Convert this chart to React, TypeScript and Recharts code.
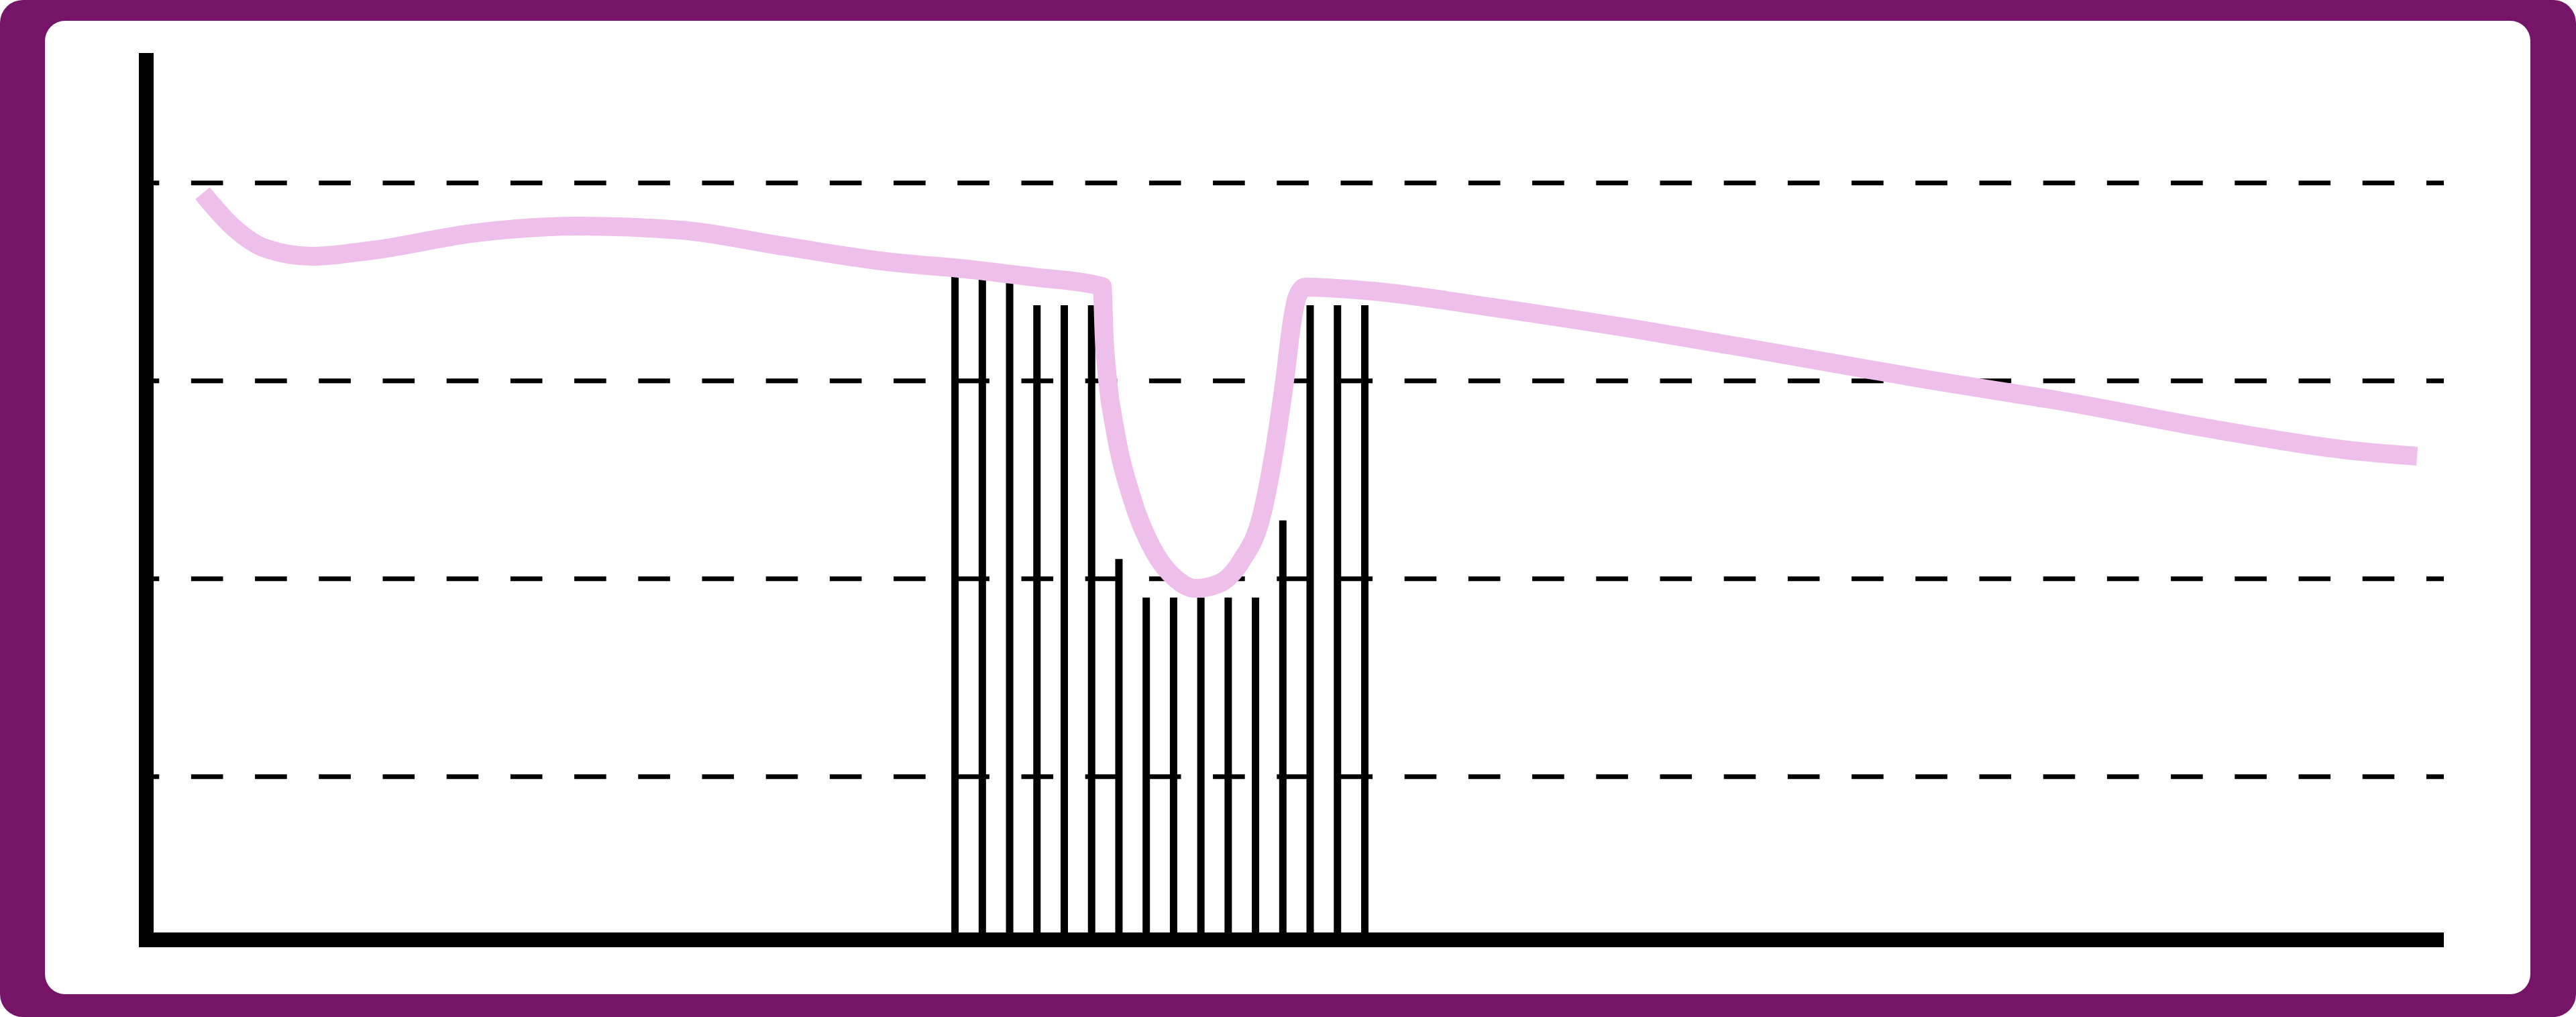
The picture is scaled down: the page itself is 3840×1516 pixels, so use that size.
import React from 'react';
import { ComposedChart, Bar, Line, XAxis, YAxis, ReferenceLine } from 'recharts';

// Bar series (x position on numeric axis, value)
const barX = [29, 30, 31, 32, 33, 34, 35, 36, 37, 38, 39, 40, 41, 42, 43, 44];
const barValues = [67.0, 67.0, 67.0, 64.15, 64.15, 64.15, 38.5, 34.6, 34.6, 34.6, 34.6, 34.6, 42.4, 64.15, 64.15, 64.15];

// Line series
const lineX = [1.46, 2.62, 3.75, 5.44, 7.7, 11.46, 15.21, 18.97, 22.73, 26.48, 29.65, 31.86, 34.39, 34.46, 34.59, 34.86, 35.54, 36.26, 37.09, 37.8, 38.66, 39.5, 40.21, 40.63, 41.07, 41.34, 41.51, 41.81, 44.29, 48.49, 53.81, 59.14, 64.47, 69.8, 75.1, 80.43, 82.52];
const lineY = [75.47, 71.95, 69.91, 69.1, 69.71, 71.47, 72.15, 71.74, 70.12, 68.56, 67.74, 67.0, 66.05, 61.1, 56.55, 51.6, 44.14, 39.4, 36.48, 35.53, 36.01, 38.38, 42.72, 48.42, 56.55, 62.45, 64.83, 65.98, 65.57, 64.01, 61.78, 59.27, 56.69, 54.32, 51.6, 49.37, 48.89];

// Axis settings
const xDomain = [-0.6, 83.5];
const yDomain = [0, 88.9];
const yTicks = [16.5, 36.5, 56.5, 76.5];

const barData = barX.map((x, i) => ({ x, v: barValues[i] }));
const lineData = lineX.map((x, i) => ({ x, y: lineY[i] }));

export default function App() {
  return (
    <div style={{ position: 'absolute', left: 0, top: 0, width: 3840, height: 1516, background: '#fff' }}>
      <div style={{ position: 'absolute', left: 0, top: 0, width: 3840, height: 1516, background: '#761467', borderRadius: 34 }} />
      <div style={{ position: 'absolute', left: 67, top: 31, width: 3705, height: 1451, background: '#fff', borderRadius: 30 }} />
      <div style={{ position: 'absolute', left: 0, top: 0 }}>
        <ComposedChart
          width={3840}
          height={1516}
          data={barData}
          margin={{ top: 90, right: 197, bottom: 114, left: 217 }}
        >
          <XAxis
            xAxisId="bar"
            dataKey="x"
            type="number"
            domain={xDomain as any}
            allowDataOverflow
            height={1}
            tick={false}
            tickLine={false}
            axisLine={{ stroke: '#000', strokeWidth: 22 }}
          />
          <XAxis
            xAxisId="line"
            dataKey="x"
            type="number"
            domain={xDomain as any}
            allowDataOverflow
            hide
          />
          <YAxis
            yAxisId="y"
            type="number"
            domain={yDomain as any}
            ticks={yTicks}
            allowDataOverflow
            width={1}
            tick={false}
            tickLine={false}
            axisLine={{ stroke: '#000', strokeWidth: 22, strokeLinecap: 'square' }}
          />
          {yTicks.map((t) => (
            <ReferenceLine
              key={t}
              xAxisId="bar"
              yAxisId="y"
              y={t}
              stroke="#000"
              strokeWidth={7}
              strokeDasharray="47.6 47.6"
              strokeDashoffset={28.3}
            />
          ))}
          <Bar xAxisId="bar" yAxisId="y" dataKey="v" fill="#000" barSize={11} isAnimationActive={false} />
          <Line
            xAxisId="line"
            yAxisId="y"
            data={lineData}
            dataKey="y"
            type="monotone"
            stroke="#EDBFEA"
            strokeWidth={28}
            dot={false}
            activeDot={false}
            isAnimationActive={false}
          />
        </ComposedChart>
      </div>
    </div>
  );
}
